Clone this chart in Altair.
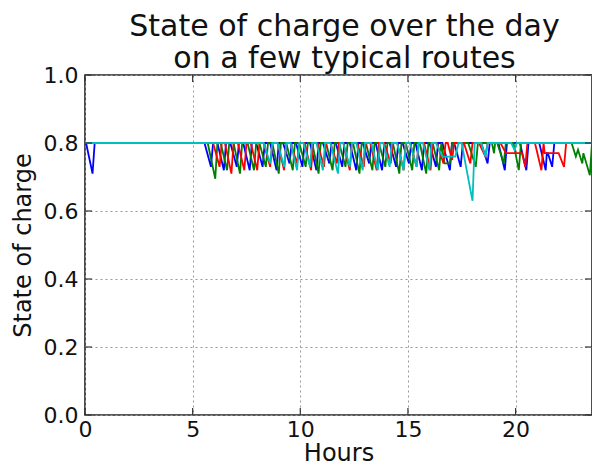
import altair as alt
import pandas as pd

# ---- data (hours, state of charge) ----
blue_pts = [(0, 0.8), (0.05, 0.8), (0.35, 0.71), (0.45, 0.8),
    (5.55, 0.8), (5.85, 0.73), (5.95, 0.8), (6.15, 0.8), (6.45, 0.72), (6.55, 0.8),
    (6.75, 0.8), (7.05, 0.73), (7.15, 0.8), (7.35, 0.8), (7.65, 0.72), (7.75, 0.8),
    (7.95, 0.8), (8.25, 0.73), (8.35, 0.8), (8.6, 0.8), (8.9, 0.72), (9.0, 0.8),
    (9.2, 0.8), (9.5, 0.74), (9.6, 0.8), (9.8, 0.8), (10.1, 0.73), (10.2, 0.8),
    (10.45, 0.8), (10.75, 0.72), (10.85, 0.8), (11.05, 0.8), (11.35, 0.74), (11.45, 0.8),
    (11.65, 0.8), (11.95, 0.73), (12.05, 0.8), (12.3, 0.8), (12.6, 0.72), (12.7, 0.8),
    (12.9, 0.8), (13.2, 0.74), (13.3, 0.8), (13.5, 0.8), (13.8, 0.72), (13.9, 0.8),
    (14.15, 0.8), (14.45, 0.73), (14.55, 0.8), (14.75, 0.8), (15.05, 0.74), (15.15, 0.8),
    (15.35, 0.8), (15.65, 0.72), (15.75, 0.8), (16.0, 0.8), (16.3, 0.73), (16.4, 0.8),
    (16.6, 0.8), (16.95, 0.72), (17.05, 0.8), (17.15, 0.8), (17.45, 0.73), (17.55, 0.8),
    (18.4, 0.8), (18.7, 0.74), (18.8, 0.8), (19.2, 0.8), (19.5, 0.72), (19.6, 0.8),
    (20.2, 0.8), (20.5, 0.72), (20.6, 0.8), (21.1, 0.8), (21.4, 0.72), (21.45, 0.77),
    (21.5, 0.77), (21.7, 0.73), (21.8, 0.8), (23.55, 0.8)]

green_pts = [(0, 0.8), (5.7, 0.8), (6.05, 0.695), (6.15, 0.8),
    (6.3, 0.8), (6.6, 0.72), (6.7, 0.8), (6.9, 0.8), (7.2, 0.71), (7.3, 0.8),
    (7.55, 0.8), (7.85, 0.72), (7.95, 0.8), (8.1, 0.8), (8.4, 0.73), (8.5, 0.8),
    (8.7, 0.8), (9.0, 0.71), (9.1, 0.8), (9.35, 0.8), (9.65, 0.72), (9.75, 0.8),
    (9.95, 0.8), (10.25, 0.73), (10.35, 0.8), (10.55, 0.8), (10.85, 0.71), (10.95, 0.8),
    (11.2, 0.8), (11.5, 0.72), (11.6, 0.8), (11.8, 0.8), (12.1, 0.73), (12.2, 0.8),
    (12.45, 0.8), (12.75, 0.71), (12.85, 0.8), (13.05, 0.8), (13.35, 0.72), (13.45, 0.8),
    (13.65, 0.8), (13.95, 0.73), (14.05, 0.8), (14.3, 0.8), (14.6, 0.71), (14.7, 0.8),
    (14.9, 0.8), (15.2, 0.72), (15.3, 0.8), (15.55, 0.8), (15.85, 0.71), (15.95, 0.8),
    (16.15, 0.8), (16.45, 0.72), (16.55, 0.8), (16.7, 0.74), (16.95, 0.74), (17.05, 0.8),
    (17.8, 0.8), (18.15, 0.73), (18.25, 0.8), (18.9, 0.8), (19.0, 0.77), (19.05, 0.8),
    (19.15, 0.8), (19.45, 0.74), (19.55, 0.8), (19.9, 0.8), (20.15, 0.72), (20.25, 0.8),
    (22.6, 0.8), (22.8, 0.76), (22.9, 0.78), (23.1, 0.74), (23.15, 0.77), (23.45, 0.705),
    (23.55, 0.8)]

red_pts = [(0, 0.8), (5.95, 0.8), (6.25, 0.73), (6.35, 0.8),
    (6.5, 0.8), (6.8, 0.71), (6.9, 0.8), (7.1, 0.8), (7.4, 0.72), (7.5, 0.8),
    (7.7, 0.8), (8.0, 0.72), (8.1, 0.8), (8.3, 0.8), (8.6, 0.73), (8.7, 0.8),
    (8.95, 0.8), (9.25, 0.72), (9.35, 0.8), (9.55, 0.8), (9.85, 0.74), (9.95, 0.8),
    (10.2, 0.8), (10.5, 0.72), (10.6, 0.8), (10.8, 0.8), (11.1, 0.73), (11.2, 0.8),
    (11.4, 0.8), (11.7, 0.74), (11.8, 0.8), (12.0, 0.8), (12.3, 0.72), (12.4, 0.8),
    (12.65, 0.8), (12.95, 0.73), (13.05, 0.8), (13.25, 0.8), (13.55, 0.72), (13.65, 0.8),
    (13.9, 0.8), (14.2, 0.74), (14.3, 0.8), (14.5, 0.8), (14.8, 0.72), (14.9, 0.8),
    (15.1, 0.8), (15.4, 0.73), (15.5, 0.8), (15.75, 0.8), (16.05, 0.72), (16.15, 0.8),
    (16.35, 0.8), (16.65, 0.74), (16.75, 0.8), (16.85, 0.8), (17.05, 0.75), (17.15, 0.8),
    (17.6, 0.8), (17.9, 0.74), (18.0, 0.8), (18.3, 0.8), (18.6, 0.76), (18.7, 0.8),
    (19.3, 0.8), (19.55, 0.77), (20.3, 0.77), (20.45, 0.73), (20.55, 0.8),
    (20.9, 0.8), (21.2, 0.72), (21.3, 0.8), (21.35, 0.77), (22.0, 0.77), (22.25, 0.73),
    (22.35, 0.8), (23.55, 0.8)]

cyan_pts = [(0, 0.8), (8.3, 0.8), (8.6, 0.74), (8.7, 0.8),
    (8.95, 0.8), (9.25, 0.73), (9.35, 0.8), (9.55, 0.8), (9.85, 0.72), (9.95, 0.8),
    (10.15, 0.8), (10.45, 0.73), (10.55, 0.8), (10.75, 0.8), (11.05, 0.72), (11.15, 0.8),
    (11.4, 0.8), (11.75, 0.71), (11.85, 0.8), (12.0, 0.8), (12.3, 0.73), (12.4, 0.8),
    (12.6, 0.8), (12.9, 0.72), (13.0, 0.8), (13.3, 0.8), (13.6, 0.72), (13.7, 0.8),
    (13.85, 0.8), (14.15, 0.73), (14.25, 0.8), (14.5, 0.8), (14.8, 0.72), (14.9, 0.8),
    (15.1, 0.8), (15.4, 0.73), (15.5, 0.8), (15.7, 0.8), (16.0, 0.72), (16.1, 0.8),
    (16.3, 0.8), (16.6, 0.76), (17.2, 0.76), (17.35, 0.8), (17.5, 0.8), (17.7, 0.73),
    (18.0, 0.63), (18.1, 0.8), (18.4, 0.8), (18.6, 0.76), (18.7, 0.8),
    (19.8, 0.8), (19.95, 0.78), (20.05, 0.8), (23.55, 0.8)]

series_order = ["blue", "green", "red", "cyan"]
series_colors = {"blue": "#0000ff", "green": "#008000", "red": "#ff0000", "cyan": "#00bfbf"}
series_pts = {"blue": blue_pts, "green": green_pts, "red": red_pts, "cyan": cyan_pts}

x_ticks = [0, 5, 10, 15, 20]
y_ticks = [0.0, 0.2, 0.4, 0.6, 0.8, 1.0]
x_max = 23.55

FONT = "DejaVu Sans"
W, H = 507, 340

xscale = alt.Scale(domain=[0, x_max], nice=False, zero=False)
yscale = alt.Scale(domain=[0, 1], nice=False)
xaxis = alt.Axis(values=x_ticks, title="Hours", format="d", labelFlush=False)
yaxis = alt.Axis(values=y_ticks, title="State of charge", format=".1f", labelFlush=False)

layers = []
for name in series_order:
    df = pd.DataFrame(series_pts[name], columns=["hours", "soc"])
    df["idx"] = range(len(df))
    layers.append(
        alt.Chart(df).mark_line(color=series_colors[name], strokeWidth=1.8).encode(
            x=alt.X("hours:Q", scale=xscale, axis=xaxis),
            y=alt.Y("soc:Q", scale=yscale, axis=yaxis),
            order="idx:Q",
        )
    )

xt = pd.DataFrame({"hours": x_ticks})
yt = pd.DataFrame({"soc": y_ticks})
TL = 7
rule = dict(color="#333", strokeWidth=1.2)
tick_layers = [
    alt.Chart(xt).mark_rule(**rule).encode(
        x=alt.X("hours:Q", scale=xscale, axis=xaxis), y=alt.value(H), y2=alt.value(H - TL)),
    alt.Chart(xt).mark_rule(**rule).encode(
        x=alt.X("hours:Q", scale=xscale, axis=xaxis), y=alt.value(0), y2=alt.value(TL)),
    alt.Chart(yt).mark_rule(**rule).encode(
        y=alt.Y("soc:Q", scale=yscale, axis=yaxis), x=alt.value(0), x2=alt.value(TL)),
    alt.Chart(yt).mark_rule(**rule).encode(
        y=alt.Y("soc:Q", scale=yscale, axis=yaxis), x=alt.value(W - TL), x2=alt.value(W)),
]

chart = alt.layer(*layers, *tick_layers).properties(
    width=W, height=H,
    title=alt.TitleParams(
        text=["State of charge over the day", "on a few typical routes"],
        font=FONT, fontSize=30, fontWeight="normal", color="#111",
        lineHeight=32, anchor="middle", offset=-10, dx=6,
    ),
    autosize=alt.AutoSizeParams(type="none"),
    padding={"left": 77, "top": 67, "right": 0, "bottom": 52},
).configure_view(
    stroke="#222", strokeWidth=1.6
).configure_axis(
    labelFont=FONT, titleFont=FONT, labelFontSize=22, titleFontSize=24,
    titleFontWeight="normal", labelColor="#111", titleColor="#111",
    domain=False, ticks=False,
    grid=True, gridColor="#999999", gridDash=[2, 3], gridWidth=1,
).configure_axisX(
    labelPadding=4, titlePadding=1,
).configure_axisY(
    labelPadding=7, titlePadding=8,
)

chart.save("out.html", embed_options={"renderer": "svg", "actions": False})
